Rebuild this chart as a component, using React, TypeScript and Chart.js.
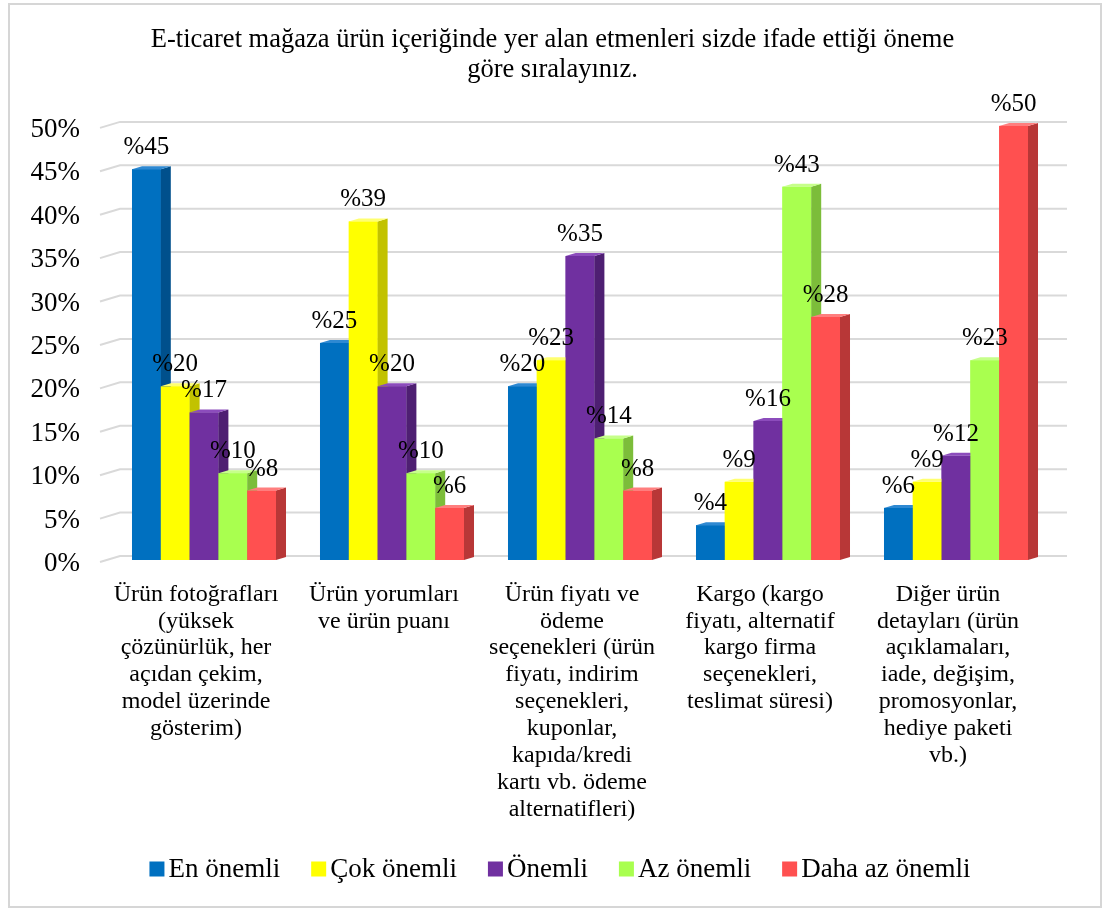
import React, { useEffect, useRef } from 'react';
import { Chart, registerables } from 'chart.js';

Chart.register(...registerables);

const FONT = '"Liberation Serif", "Times New Roman", serif';

const titleLines = [
  'E-ticaret mağaza ürün içeriğinde yer alan etmenleri sizde ifade ettiği öneme',
  'göre sıralayınız.',
];

const categories = [
  ['Ürün fotoğrafları', '(yüksek', 'çözünürlük, her', 'açıdan çekim,', 'model üzerinde', 'gösterim)'],
  ['Ürün yorumları', 've ürün puanı'],
  ['Ürün fiyatı ve', 'ödeme', 'seçenekleri (ürün', 'fiyatı, indirim', 'seçenekleri,', 'kuponlar,', 'kapıda/kredi', 'kartı vb. ödeme', 'alternatifleri)'],
  ['Kargo (kargo', 'fiyatı, alternatif', 'kargo firma', 'seçenekleri,', 'teslimat süresi)'],
  ['Diğer ürün', 'detayları (ürün', 'açıklamaları,', 'iade, değişim,', 'promosyonlar,', 'hediye paketi', 'vb.)'],
];

const seriesNames = ['En önemli', 'Çok önemli', 'Önemli', 'Az önemli', 'Daha az önemli'];

const enOnemli = [45, 25, 20, 4, 6];
const cokOnemli = [20, 39, 23, 9, 9];
const onemli = [17, 20, 35, 16, 12];
const azOnemli = [10, 10, 14, 43, 23];
const dahaAzOnemli = [8, 6, 8, 28, 50];

const seriesValues = [enOnemli, cokOnemli, onemli, azOnemli, dahaAzOnemli];

const frontColors = ['#0070C0', '#FFFF00', '#7030A0', '#A9FF4F', '#FF5050'];
const sideColors = ['#00508C', '#C2C200', '#4E1F72', '#7CBD3A', '#B83737'];
const topColors = ['#2E89D2', '#FFFF70', '#8C4CBC', '#C6FF8A', '#FF7E7E'];

const yMin = 0;
const yMax = 50;
const yStep = 5;

const DX = 10;
const DY = 3;

const threeDPlugin = {
  id: 'threeD',
  beforeDatasetsDraw(chart: any) {
    const { ctx, chartArea, scales } = chart;
    const ys = scales.y;
    ctx.save();
    ctx.strokeStyle = '#D9D9D9';
    ctx.lineWidth = 2;
    for (const t of ys.ticks) {
      const py = ys.getPixelForValue(t.value);
      ctx.beginPath();
      ctx.moveTo(chartArea.left - 10, py + 2);
      ctx.lineTo(chartArea.left + 10, py - 4);
      ctx.lineTo(chartArea.right + 17, py - 4);
      ctx.stroke();
    }
    ctx.restore();
  },
  afterDatasetsDraw(chart: any) {
    const { ctx } = chart;
    const nCat = chart.data.labels.length;
    const nDs = chart.data.datasets.length;
    ctx.save();
    for (let c = 0; c < nCat; c++) {
      for (let d = 0; d < nDs; d++) {
        const el = chart.getDatasetMeta(d).data[c];
        if (!el) continue;
        const { x, y, base, width } = el.getProps(['x', 'y', 'base', 'width'], true);
        const L = x - width / 2;
        const R = x + width / 2;
        ctx.fillStyle = frontColors[d];
        ctx.fillRect(L, y, width, base - y);
        ctx.fillStyle = sideColors[d];
        ctx.beginPath();
        ctx.moveTo(R, y);
        ctx.lineTo(R + DX, y - DY);
        ctx.lineTo(R + DX, base - DY);
        ctx.lineTo(R, base);
        ctx.closePath();
        ctx.fill();
        ctx.fillStyle = topColors[d];
        ctx.beginPath();
        ctx.moveTo(L, y);
        ctx.lineTo(R, y);
        ctx.lineTo(R + DX, y - DY);
        ctx.lineTo(L + DX, y - DY);
        ctx.closePath();
        ctx.fill();
      }
    }
    ctx.fillStyle = '#000';
    ctx.font = `25px ${FONT}`;
    ctx.textAlign = 'center';
    ctx.textBaseline = 'alphabetic';
    for (let d = 0; d < nDs; d++) {
      const meta = chart.getDatasetMeta(d);
      meta.data.forEach((el: any, i: number) => {
        const { x, y } = el.getProps(['x', 'y'], true);
        ctx.fillText('%' + chart.data.datasets[d].data[i], x, y - 15);
      });
    }
    ctx.restore();
  },
};

const legendPlugin = {
  id: 'customLegend',
  afterDraw(chart: any) {
    const { ctx } = chart;
    const boxSize = 15;
    const boxGap = 4;
    const itemGap = 31;
    const centerX = 560;
    const centerY = 869;
    ctx.save();
    ctx.font = `27px ${FONT}`;
    const widths = chart.data.datasets.map((ds: any) => ctx.measureText(ds.label).width);
    const total =
      widths.reduce((a: number, w: number) => a + boxSize + boxGap + w, 0) + itemGap * (widths.length - 1);
    let x = centerX - total / 2;
    ctx.textBaseline = 'middle';
    ctx.textAlign = 'left';
    chart.data.datasets.forEach((ds: any, i: number) => {
      ctx.fillStyle = ds.backgroundColor;
      ctx.fillRect(x, centerY - boxSize / 2, boxSize, boxSize);
      x += boxSize + boxGap;
      ctx.fillStyle = '#000';
      ctx.fillText(ds.label, x, centerY + 1);
      x += widths[i] + itemGap;
    });
    ctx.restore();
  },
};

export default function App() {
  const canvasRef = useRef<HTMLCanvasElement | null>(null);

  useEffect(() => {
    if (!canvasRef.current) return;
    const chart = new Chart(canvasRef.current, {
      type: 'bar',
      data: {
        labels: categories as any,
        datasets: seriesNames.map((name, i) => ({
          label: name,
          data: seriesValues[i],
          backgroundColor: frontColors[i],
          borderWidth: 0,
          categoryPercentage: 0.766,
          barPercentage: 1.0,
        })),
      },
      options: {
        animation: false,
        responsive: false,
        devicePixelRatio: 1,
        layout: { padding: { top: 25, left: 0, right: 0, bottom: 15 } },
        plugins: {
          title: {
            display: true,
            text: titleLines,
            color: '#000',
            font: { family: FONT, size: 26.5, weight: 'normal', lineHeight: 1.13 },
            padding: { top: 0, bottom: 41 },
          },
          legend: { display: false },
          tooltip: { enabled: false },
        },
        scales: {
          x: {
            grid: { display: false, drawTicks: false },
            border: { display: false },
            ticks: {
              color: '#000',
              font: { family: FONT, size: 24, lineHeight: 1.12 },
              padding: 21,
              labelOffset: -8,
              maxRotation: 0,
              minRotation: 0,
              autoSkip: false,
            },
            afterFit: (s: any) => {
              s.height = 334;
            },
          },
          y: {
            min: yMin,
            max: yMax,
            grid: { display: false, drawTicks: false },
            border: { display: false },
            ticks: {
              stepSize: yStep,
              color: '#000',
              font: { family: FONT, size: 27 },
              padding: 30,
              labelOffset: 4,
              callback: (v: any) => v + '%',
            },
            afterFit: (s: any) => {
              s.width = 110;
            },
          },
          yR: {
            type: 'linear',
            position: 'right',
            display: true,
            grid: { display: false, drawTicks: false },
            border: { display: false },
            ticks: { display: false },
            afterFit: (s: any) => {
              s.width = 55;
            },
          },
        },
      } as any,
      plugins: [threeDPlugin, legendPlugin],
    });
    return () => chart.destroy();
  }, []);

  return (
    <div style={{ position: 'fixed', left: 0, top: 0, width: 1105, height: 909, background: '#fff' }}>
      <canvas ref={canvasRef} width={1105} height={909} style={{ position: 'absolute', left: 0, top: 0 }} />
      <div
        style={{
          position: 'absolute',
          left: 8,
          top: 3,
          width: 1090,
          height: 901,
          border: '2px solid #D6D6D6',
          pointerEvents: 'none',
        }}
      />
    </div>
  );
}
